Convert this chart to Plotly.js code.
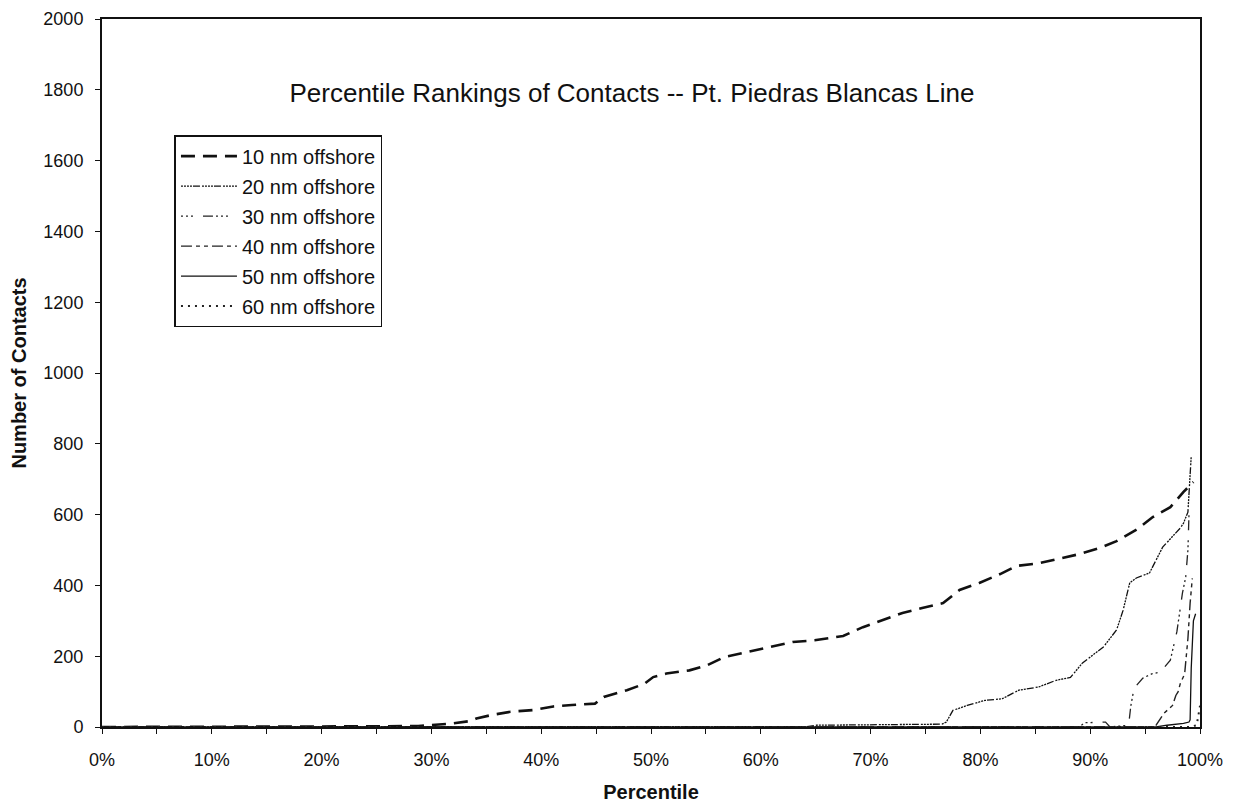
<!DOCTYPE html>
<html>
<head>
<meta charset="utf-8">
<script src="https://cdn.plot.ly/plotly-3.0.1.min.js"></script>
<style>html,body{margin:0;padding:0;background:#fff;}#chart{width:1235px;height:808px;}</style>
</head>
<body>
<div id="chart"></div>
<script>
// Percentile (fraction) and number of contacts for each series
var pct10 = [0, 0.10, 0.20, 0.25, 0.288, 0.30, 0.316, 0.336, 0.341, 0.355, 0.372, 0.393, 0.411, 0.428, 0.449, 0.457, 0.478, 0.494, 0.502, 0.514, 0.535, 0.551, 0.567, 0.588, 0.608, 0.629, 0.649, 0.675, 0.693, 0.711, 0.729, 0.747, 0.766, 0.781, 0.799, 0.818, 0.833, 0.854, 0.872, 0.891, 0.909, 0.924, 0.943, 0.957, 0.973, 0.985, 0.994];
var val10 = [0, 0, 1, 2, 3, 5, 9, 17, 24, 34, 43, 48, 58, 62, 66, 85, 104, 122, 141, 151, 160, 174, 198, 212, 226, 240, 245, 257, 282, 302, 322, 336, 350, 387, 407, 432, 455, 463, 475, 489, 506, 525, 559, 593, 621, 664, 692];

var pct20 = [0, 0.64, 0.65, 0.765, 0.769, 0.775, 0.788, 0.804, 0.82, 0.835, 0.853, 0.869, 0.882, 0.893, 0.912, 0.924, 0.93, 0.936, 0.942, 0.954, 0.966, 0.982, 0.985, 0.989, 0.992];
var val20 = [0, 0, 5, 8, 14, 47, 61, 75, 80, 104, 113, 132, 140, 181, 226, 274, 330, 407, 421, 435, 508, 562, 576, 607, 765];

var pct30 = [0, 0.89, 0.895, 0.914, 0.918, 0.935, 0.937, 0.94, 0.948, 0.956, 0.964, 0.973, 0.979, 0.984, 0.987, 0.989, 0.990];
var val30 = [0, 0, 12, 14, 0, 5, 60, 110, 138, 150, 155, 189, 270, 378, 424, 500, 604];

var pct40 = [0, 0.955, 0.96, 0.967, 0.975, 0.978, 0.98, 0.982, 0.986, 0.989, 0.991, 0.993];
var val40 = [0, 0, 5, 38, 61, 89, 99, 122, 150, 250, 350, 420];

var pct50 = [0, 0.96, 0.97, 0.985, 0.99, 0.991, 0.992, 0.994, 0.996];
var val50 = [0, 0, 5, 10, 14, 20, 165, 300, 320];

var pct60 = [0, 0.99, 0.997, 1.0];
var val60 = [0, 0, 5, 60];

var seriesNames = ["10 nm offshore", "20 nm offshore", "30 nm offshore", "40 nm offshore", "50 nm offshore", "60 nm offshore"];
var xTickVals = [0, 0.1, 0.2, 0.3, 0.4, 0.5, 0.6, 0.7, 0.8, 0.9, 1.0];
var xTickText = ["0%", "10%", "20%", "30%", "40%", "50%", "60%", "70%", "80%", "90%", "100%"];

var styles = [
  {dash: "14px,8px", width: 2.6, color: "#111"},
  {dash: "2px,1px,2px,1px,2px,1px,2px,1px,7px,2px", width: 1.3, color: "#111"},
  {dash: "2px,3px,2px,3px,2px,10px,10px,3px", width: 1.3, color: "#222"},
  {dash: "11px,4px,4px,4px,4px,4px", width: 1.4, color: "#222"},
  {dash: "solid", width: 1.3, color: "#111"},
  {dash: "2px,5px", width: 2, color: "#222"}
];
var xs = [pct10, pct20, pct30, pct40, pct50, pct60];
var ys = [val10, val20, val30, val40, val50, val60];

var traces = [];
for (var i = 0; i < 6; i++) {
  traces.push({
    x: xs[i], y: ys[i], name: seriesNames[i], type: "scatter", mode: "lines",
    line: {dash: styles[i].dash, width: styles[i].width, color: styles[i].color, shape: "linear"},
    legendgroup: "g" + i
  });
}

var font = "Liberation Sans, Arial, sans-serif";
var layout = {
  width: 1235, height: 808,
  paper_bgcolor: "#fff", plot_bgcolor: "#fff",
  margin: {l: 102, r: 35, t: 19, b: 81},
  font: {family: font, color: "#111", size: 18},
  title: {text: "Percentile Rankings of Contacts -- Pt. Piedras Blancas Line", font: {family: font, size: 26, color: "#111"},
          x: 632 / 1235, xanchor: "center", xref: "container", y: 1 - 93 / 808, yanchor: "middle", yref: "container"},
  showlegend: true,
  legend: {x: 0.066, y: 0.836, xanchor: "left", yanchor: "top", bgcolor: "#fff", bordercolor: "#111", borderwidth: 1.5,
           font: {family: font, size: 20, color: "#111"}, tracegroupgap: 1, traceorder: "grouped", itemwidth: 56},
  xaxis: {range: [0, 1], tickvals: xTickVals, ticktext: xTickText, ticks: "outside", ticklen: 5, tickcolor: "#111",
          ticklabelstandoff: 10,
          showline: true, linecolor: "#111", linewidth: 2, mirror: true, showgrid: false, zeroline: false,
          tickfont: {family: font, size: 18, color: "#111"},
          minor: {dtick: 0.05, tick0: 0, ticks: "outside", ticklen: 5, tickcolor: "#111", showgrid: false},
          title: {text: "<b>Percentile</b>", font: {family: font, size: 20, color: "#111"}, standoff: 16}},
  yaxis: {range: [0, 2000], dtick: 200, ticks: "outside", ticklen: 5, tickcolor: "#111",
          ticklabelstandoff: 8,
          showline: true, linecolor: "#111", linewidth: 2, mirror: true, showgrid: false, zeroline: false,
          tickfont: {family: font, size: 18, color: "#111"},
          title: {text: "<b>Number of Contacts</b>", font: {family: font, size: 20, color: "#111"}, standoff: 11}}
};

Plotly.newPlot("chart", traces, layout, {displayModeBar: false, staticPlot: true});
</script>
</body>
</html>
